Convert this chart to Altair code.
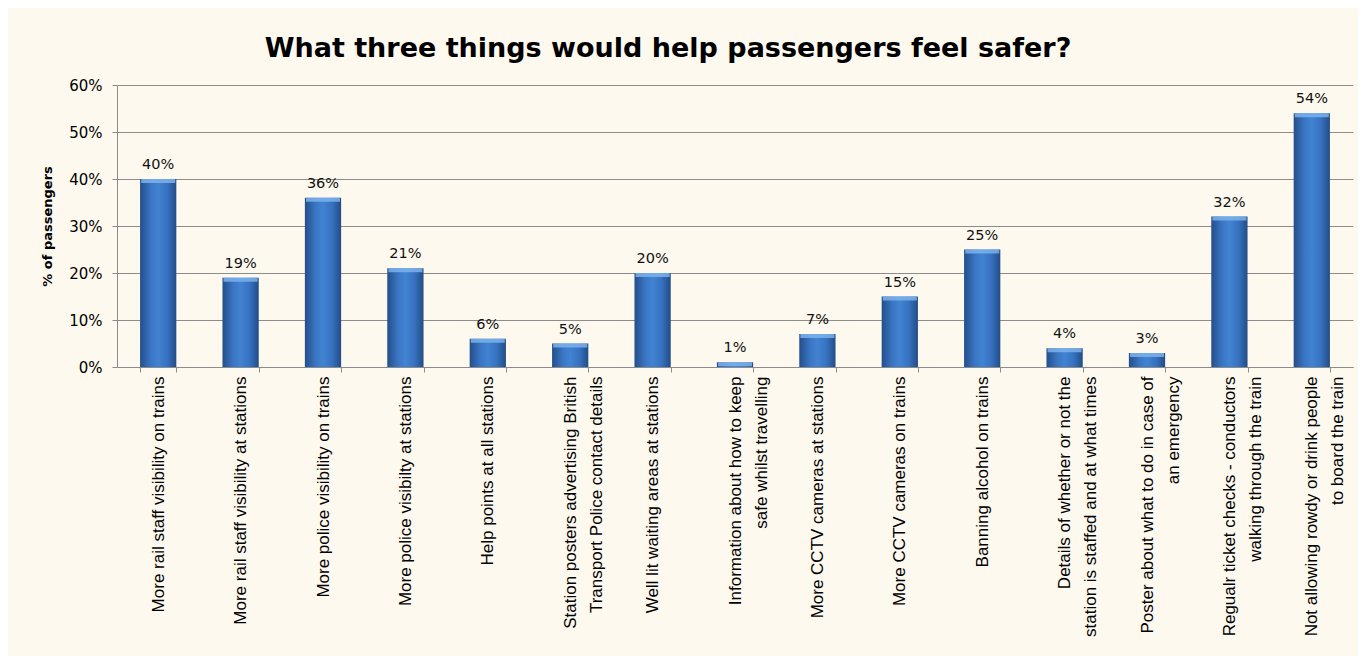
import altair as alt
import pandas as pd

categories = [
    "More rail staff visibility on trains",
    "More rail staff visibility at stations",
    "More police visibility on trains",
    "More police visibilty at stations",
    "Help points at all stations",
    "Station posters advertising British\nTransport Police contact details",
    "Well lit waiting areas at stations",
    "Information about how to keep\nsafe whilst travelling",
    "More CCTV cameras at stations",
    "More CCTV cameras on trains",
    "Banning alcohol on trains",
    "Details of whether or not the\nstation is staffed and at what times",
    "Poster about what to do in case of\nan emergency",
    "Regualr ticket checks - conductors\nwalking through the train",
    "Not allowing rowdy or drink people\nto board the train",
]
values = [40, 19, 36, 21, 6, 5, 20, 1, 7, 15, 25, 4, 3, 32, 54]
y_ticks = [0, 10, 20, 30, 40, 50, 60]

df = pd.DataFrame({"cat": categories, "value": values})

x_enc = alt.X(
    "cat:N",
    sort=None,
    title=None,
    scale=alt.Scale(paddingInner=0.56, paddingOuter=0.28),
    axis=alt.Axis(
        labelAngle=-90,
        labelAlign="right",
        labelBaseline="middle",
        labelFont="Liberation Sans",
        labelFontSize=17,
        labelColor="#000000",
        labelLimit=400,
        labelLineHeight=26,
        labelPadding=4,
        labelExpr="split(datum.label, '\\n')",
        tickBand="extent",
        tickSize=5,
        tickColor="#8C8C8C",
        domainColor="#8C8C8C",
        grid=False,
    ),
)
y_enc = alt.Y(
    "value:Q",
    scale=alt.Scale(domain=[0, 60], nice=False),
    axis=alt.Axis(
        values=y_ticks,
        labelExpr="datum.value + '%'",
        labelFont="DejaVu Sans",
        labelFontSize=15,
        labelColor="#000000",
        labelPadding=10,
        tickSize=5,
        tickColor="#8C8C8C",
        domainColor="#8C8C8C",
        gridColor="#8C8C8C",
        title="% of passengers",
        titleFont="DejaVu Sans",
        titleFontWeight="bold",
        titleFontSize=13,
        titleColor="#000000",
        titleX=-70,
        titleY=141,
        titleAngle=-90,
        titleAlign="center",
        titleBaseline="middle",
    ),
)

grad = alt.Gradient(
    gradient="linear",
    x1=0, x2=1, y1=0, y2=0,
    stops=[
        alt.GradientStop(offset=0, color="#244E8A"),
        alt.GradientStop(offset=0.3, color="#3A76C4"),
        alt.GradientStop(offset=0.5, color="#4183D2"),
        alt.GradientStop(offset=0.75, color="#3672C0"),
        alt.GradientStop(offset=1, color="#234C86"),
    ],
)

base = alt.Chart(df)
bars = base.mark_bar(color=grad).encode(x=x_enc, y=y_enc)
caps = base.mark_tick(color="#7DB1EC", size=34, thickness=4, yOffset=2, opacity=0.85).encode(
    x=alt.X("cat:N", sort=None), y="value:Q"
)
labels = base.transform_calculate(lab="datum.value + '%'").mark_text(
    font="DejaVu Sans", fontSize=14.5, color="#111111", baseline="alphabetic", dy=-10
).encode(x=alt.X("cat:N", sort=None), y="value:Q", text="lab:N")

chart = (
    alt.layer(bars, caps, labels)
    .properties(
        width=1236,
        height=282,
        padding={"left": 109, "top": 77, "right": 5, "bottom": 289},
        autosize=alt.AutoSizeParams(type="none"),
        background="#FDF9EE",
        title=alt.TitleParams(
            "What three things would help  passengers feel safer?",
            font="DejaVu Sans",
            fontSize=27,
            fontWeight="bold",
            color="#000000",
            anchor="middle",
            dx=-67,
            offset=15,
        ),
    )
    .configure_view(strokeWidth=0)
)

chart.save("out.html", embed_options={"renderer": "svg", "actions": False})
